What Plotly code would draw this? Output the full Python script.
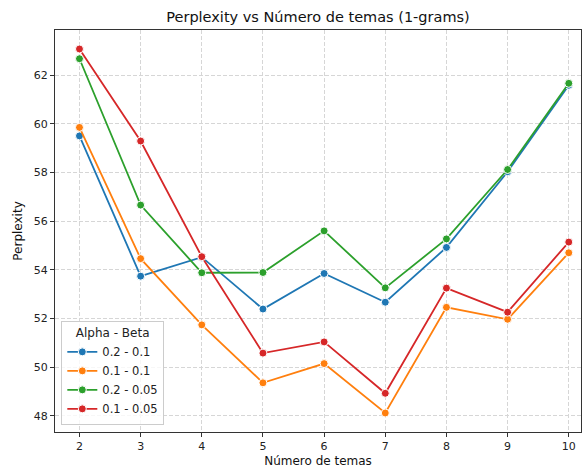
import plotly.graph_objects as go

temas = [2, 3, 4, 5, 6, 7, 8, 9, 10]
labels = ["0.2 - 0.1", "0.1 - 0.1", "0.2 - 0.05", "0.1 - 0.05"]
s_02_01 = [59.50, 53.74, 54.52, 52.39, 53.85, 52.67, 54.92, 58.03, 61.58]
s_01_01 = [59.85, 54.46, 51.74, 49.36, 50.15, 48.12, 52.46, 51.97, 54.70]
s_02_005 = [62.67, 56.66, 53.88, 53.89, 55.60, 53.26, 55.27, 58.12, 61.66]
s_01_005 = [63.07, 59.29, 54.54, 50.58, 51.04, 48.93, 53.25, 52.26, 55.14]
series = [s_02_01, s_01_01, s_02_005, s_01_005]
colors = ["#1f77b4", "#ff7f0e", "#2ca02c", "#d62728"]
yticks = [48, 50, 52, 54, 56, 58, 60, 62]

fig = go.Figure()
for name, vals, c in zip(labels, series, colors):
    fig.add_trace(go.Scatter(
        x=temas, y=vals, name=name, mode="lines+markers",
        line=dict(color=c, width=1.8),
        marker=dict(color=c, size=8, line=dict(color="white", width=1)),
    ))

font = "DejaVu Sans, sans-serif"
axis_common = dict(
    showline=True, linecolor="#333333", linewidth=1, mirror=True,
    ticks="outside", ticklen=4, tickcolor="#333333", tickwidth=1,
    showgrid=True, gridcolor="#d6d6d6", griddash="4px,2px", gridwidth=1,
    zeroline=False, tickfont=dict(family=font, size=11, color="#222222"),
)
fig.update_layout(
    width=582, height=468,
    margin=dict(l=55, r=1, t=30, b=36),
    paper_bgcolor="white", plot_bgcolor="white",
    title=dict(text="Perplexity vs Número de temas (1-grams)", x=(55 + 581) / 2 / 582,
               xanchor="center", y=1 - 17 / 468, yanchor="middle",
               font=dict(family=font, size=14.5, color="#111111")),
    xaxis=dict(title=dict(text="Número de temas", font=dict(family=font, size=12, color="#111111"), standoff=6),
               range=[1.6, 10.2], tickvals=temas, **axis_common),
    yaxis=dict(title=dict(text="Perplexity", font=dict(family=font, size=12, color="#111111"), standoff=8),
               range=[47.34, 63.85], tickvals=yticks, **axis_common),
    legend=dict(
        title=dict(text="&nbsp;&nbsp;&nbsp;Alpha - Beta", side="top",
                   font=dict(family=font, size=12, color="#222222")),
        x=0.012, y=0.018, xanchor="left", yanchor="bottom",
        bgcolor="rgba(255,255,255,0.8)", bordercolor="#cccccc", borderwidth=1,
        font=dict(family=font, size=11.5, color="#222222"),
        tracegroupgap=0, itemwidth=30,
    ),
    showlegend=True,
)
fig.write_html("out.html")
